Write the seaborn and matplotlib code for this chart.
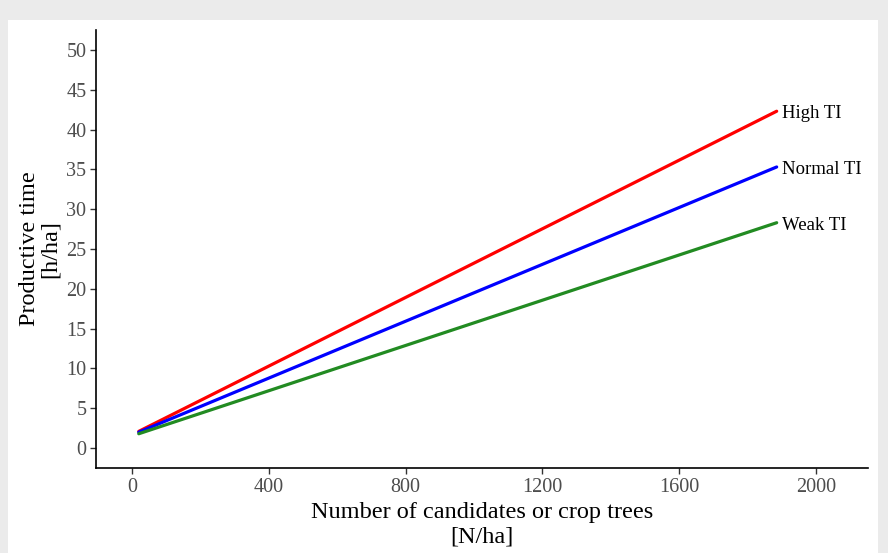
import numpy as np
import pandas as pd
import seaborn as sns
import matplotlib.pyplot as plt
from matplotlib.patches import Rectangle

# trees per ha at start / end of each line
trees = [20, 1885]
high_ti = [2.1, 42.3]
normal_ti = [2.0, 35.3]
weak_ti = [1.8, 28.3]
series = ['High TI', 'Normal TI', 'Weak TI']
colors = ['#ff0000', '#0000ff', '#228b22']

df = pd.DataFrame({
    'trees': trees * 3,
    'time': high_ti + normal_ti + weak_ti,
    'group': [s for s in series for _ in trees],
})

sns.set_style('white')
plt.rcParams['font.family'] = ['Liberation Serif', 'DejaVu Serif']

fig = plt.figure(figsize=(8.88, 5.53), dpi=100, facecolor='#ebebeb')
fig.patches.append(Rectangle((8 / 888, 0), 870 / 888, 533 / 553,
                             transform=fig.transFigure, facecolor='white',
                             edgecolor='none', zorder=-10))
ax = fig.add_axes([96 / 888, (553 - 468) / 553, 772 / 888, (468 - 30) / 553])
ax.set_facecolor('white')

sns.lineplot(data=df, x='trees', y='time', hue='group', palette=colors,
             linewidth=2.3, legend=False, ax=ax)

for name, vals in zip(series, [high_ti, normal_ti, weak_ti]):
    ax.text(trees[-1] + 15, vals[-1] - 0.3, name, ha='left', va='center',
            fontsize=13.5, color='black')

ax.set_xlim(-105, 2152)
ax.set_ylim(-2.5, 52.5)
ax.set_xticks([0, 400, 800, 1200, 1600, 2000])
ax.set_yticks(np.arange(0, 51, 5))
ax.tick_params(axis='both', labelsize=14.5, labelcolor='#4d4d4d', length=4,
               width=1, color='#333333', direction='out', left=True, bottom=True, pad=3)
for side in ['top', 'right']:
    ax.spines[side].set_visible(False)
for side in ['left', 'bottom']:
    ax.spines[side].set_color('black')
    ax.spines[side].set_linewidth(1.2)

ax.set_xlabel('Number of candidates or crop trees\n[N/ha]', fontsize=17.5,
              color='black', linespacing=1.2, labelpad=4)
ax.set_ylabel('Productive time\n[h/ha]', fontsize=17.5, color='black',
              linespacing=0.95, labelpad=4)

plt.savefig('out.png', dpi=100, facecolor=fig.get_facecolor())
